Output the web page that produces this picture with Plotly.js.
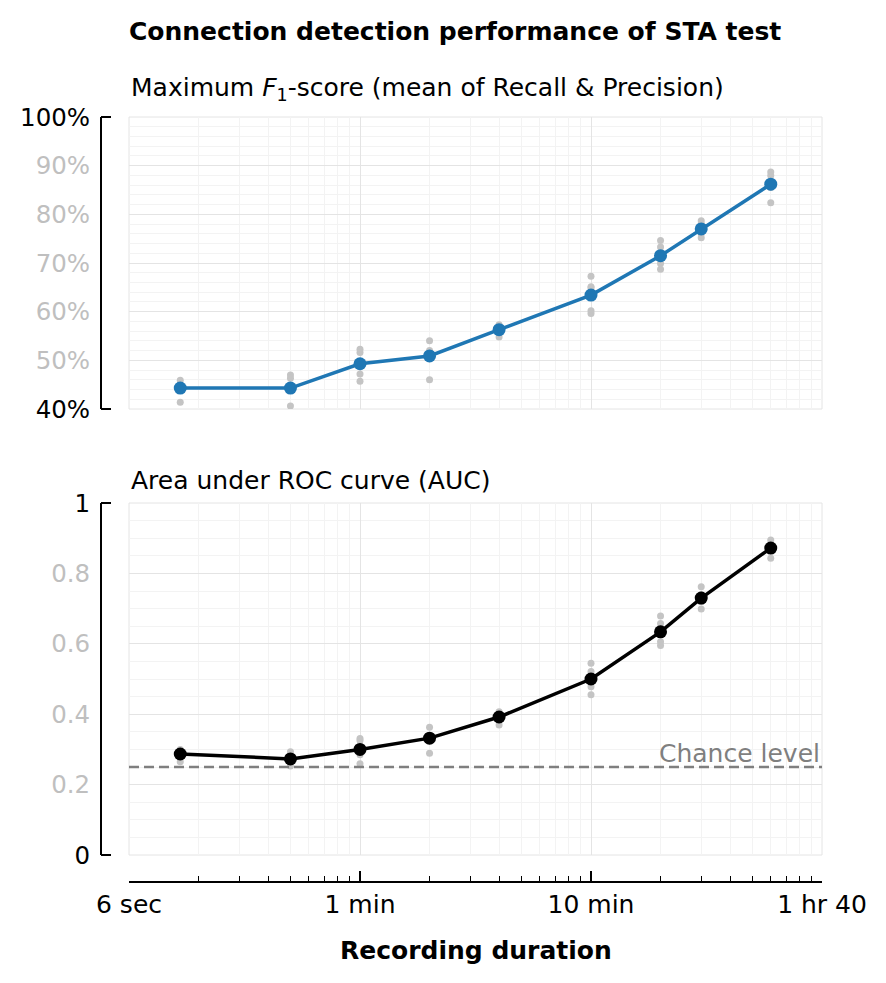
<!DOCTYPE html>
<html>
<head>
<meta charset="utf-8">
<script src="https://cdn.plot.ly/plotly-3.0.1.min.js"></script>
<style>
  html, body { margin: 0; padding: 0; background: #ffffff; }
  #chart { width: 886px; height: 983px; }
</style>
</head>
<body>
<div id="chart"></div>
<script>
// ---------------- data ----------------
const durations = [10, 30, 60, 120, 240, 600, 1200, 1800, 3600]; // seconds

const f1Mean = [44.3, 44.3, 49.3, 50.9, 56.3, 63.4, 71.5, 77.0, 86.2]; // %
const f1Samples = [
  [45.9, 45.0, 44.6, 44.6, 41.4],
  [47.0, 46.3, 43.8, 43.8, 40.6],
  [52.3, 51.6, 49.6, 47.2, 45.7],
  [54.0, 52.0, 51.5, 51.0, 46.0],
  [57.3, 56.9, 56.5, 55.8, 54.8],
  [67.3, 65.1, 64.9, 60.2, 59.6],
  [74.6, 73.3, 71.0, 69.9, 68.7],
  [78.7, 78.0, 77.0, 76.0, 75.2],
  [88.7, 88.0, 86.5, 85.5, 82.4]
];

const aucMean = [0.287, 0.273, 0.300, 0.332, 0.392, 0.500, 0.634, 0.730, 0.872];
const aucSamples = [
  [0.300, 0.292, 0.286, 0.283, 0.265],
  [0.293, 0.280, 0.270, 0.268, 0.253],
  [0.331, 0.325, 0.300, 0.285, 0.259],
  [0.363, 0.340, 0.335, 0.330, 0.289],
  [0.407, 0.398, 0.392, 0.385, 0.369],
  [0.545, 0.521, 0.500, 0.478, 0.455],
  [0.679, 0.658, 0.632, 0.606, 0.595],
  [0.762, 0.740, 0.728, 0.720, 0.699],
  [0.895, 0.880, 0.870, 0.865, 0.843]
];

const chanceLevel = 0.25;

const xTickVals = [6, 60, 600, 6000];
const xTickText = ['6 sec', '1 min', '10 min', '1 hr 40'];
const f1TickVals = [40, 50, 60, 70, 80, 90, 100];
const f1TickText = ['40%', '50%', '60%', '70%', '80%', '90%', '100%'];
const aucTickVals = [0, 0.2, 0.4, 0.6, 0.8, 1];
const aucTickText = ['0', '0.2', '0.4', '0.6', '0.8', '1'];

const titleText = 'Connection detection performance of STA test';
const topTitle = 'Maximum <i>F</i><sub>1</sub>-score (mean of Recall &amp; Precision)';
const bottomTitle = 'Area under ROC curve (AUC)';
const xTitle = 'Recording duration';

// ---------------- helpers ----------------
const FONT = 'DejaVu Sans, Liberation Sans, sans-serif';
const LIGHT = '#bfbfbf';
const GRID_MAJOR = '#e4e4e4';
const GRID_MINOR = '#f3f3f3';

const xMinorVals = [];
[6, 60, 600].forEach(d => { for (let k = 2; k <= 9; k++) xMinorVals.push(k * d); });

function colorEnds(texts) {
  return texts.map((t, i) => (i === 0 || i === texts.length - 1) ? t : '<span style="color:' + LIGHT + '">' + t + '</span>');
}
function flatten(samples) {
  const xs = [], ys = [];
  samples.forEach((arr, i) => arr.forEach(v => { xs.push(durations[i]); ys.push(v); }));
  return {xs, ys};
}

const f1Flat = flatten(f1Samples);
const aucFlat = flatten(aucSamples);

// ---------------- geometry ----------------
const W = 886, H = 983;
const mL = 101, mR = 64, mT = 117, mB = 101;
const pw = W - mL - mR, ph = H - mT - mB;
const xDom = [(129 - mL) / pw, 1];
const yTopDom = [(882 - 409) / ph, 1];
const yBotDom = [(882 - 855) / ph, (882 - 503) / ph];
const xRange = [Math.log10(6), Math.log10(6000)];
const tickFrac = 10 / pw; // spine tick length as paper fraction

const traces = [
  {x: f1Flat.xs, y: f1Flat.ys, xaxis: 'x', yaxis: 'y', mode: 'markers', type: 'scatter',
   marker: {color: '#c4c4c4', size: 7}, hoverinfo: 'skip', showlegend: false},
  {x: durations, y: f1Mean, xaxis: 'x', yaxis: 'y', mode: 'lines+markers', type: 'scatter',
   line: {color: '#1f77b4', width: 3.5}, marker: {color: '#1f77b4', size: 13}, showlegend: false},
  {x: aucFlat.xs, y: aucFlat.ys, xaxis: 'x2', yaxis: 'y2', mode: 'markers', type: 'scatter',
   marker: {color: '#c4c4c4', size: 7}, hoverinfo: 'skip', showlegend: false},
  {x: durations, y: aucMean, xaxis: 'x2', yaxis: 'y2', mode: 'lines+markers', type: 'scatter',
   line: {color: '#000000', width: 3.5}, marker: {color: '#000000', size: 13}, showlegend: false}
];

const yLabelFont = {family: FONT, size: 24.5, color: '#000000'};
const xLabelFont = {family: FONT, size: 25, color: '#000000'};

function spineTick(yref, yv) {
  return {type: 'line', xref: 'paper', yref: yref, x0: 0, x1: tickFrac, y0: yv, y1: yv,
          line: {color: '#000000', width: 2}, layer: 'above'};
}

const layout = {
  width: W, height: H,
  margin: {l: mL, r: mR, t: mT, b: mB, pad: 0},
  paper_bgcolor: '#ffffff', plot_bgcolor: '#ffffff',
  font: {family: FONT, size: 24, color: '#000000'},
  title: {text: titleText, xref: 'container', x: 129 / W, xanchor: 'left',
          yref: 'container', y: 1 - 31 / H, yanchor: 'middle',
          font: {family: FONT, size: 25, weight: 'bold', color: '#000000'}},
  xaxis: {domain: xDom, anchor: 'y', type: 'log', range: xRange,
          tickmode: 'array', tickvals: xTickVals, ticktext: xTickText,
          showticklabels: false, ticks: '', showline: false, zeroline: false,
          showgrid: true, gridcolor: GRID_MAJOR, gridwidth: 1,
          minor: {tickmode: 'array', tickvals: xMinorVals, showgrid: true, gridcolor: GRID_MINOR, gridwidth: 1, ticks: ''}},
  xaxis2: {domain: xDom, anchor: 'free', position: 0, type: 'log', range: xRange,
           tickmode: 'array', tickvals: xTickVals, ticktext: xTickText,
           showticklabels: true, tickfont: xLabelFont, ticklabelstandoff: 0,
           ticks: 'inside', ticklen: 10, tickwidth: 1.5, tickcolor: '#000000',
           showline: true, linecolor: '#000000', linewidth: 2, zeroline: false,
           showgrid: true, gridcolor: GRID_MAJOR, gridwidth: 1,
           minor: {tickmode: 'array', tickvals: xMinorVals, showgrid: true, gridcolor: GRID_MINOR, gridwidth: 1,
                   ticks: 'inside', ticklen: 5, tickwidth: 1, tickcolor: '#000000'}},
  yaxis: {domain: yTopDom, anchor: 'free', position: 0, range: [40, 100],
          tickmode: 'array', tickvals: f1TickVals, ticktext: colorEnds(f1TickText),
          tickfont: yLabelFont, ticks: '', ticklabelstandoff: 5,
          showline: true, linecolor: '#000000', linewidth: 2, zeroline: false,
          showgrid: true, gridcolor: GRID_MAJOR, gridwidth: 1,
          minor: {dtick: 2, showgrid: true, gridcolor: GRID_MINOR, gridwidth: 1, ticks: ''}},
  yaxis2: {domain: yBotDom, anchor: 'free', position: 0, range: [0, 1],
           tickmode: 'array', tickvals: aucTickVals, ticktext: colorEnds(aucTickText),
           tickfont: yLabelFont, ticks: '', ticklabelstandoff: 5,
           showline: true, linecolor: '#000000', linewidth: 2, zeroline: false,
           showgrid: true, gridcolor: GRID_MAJOR, gridwidth: 1,
           minor: {dtick: 0.05, showgrid: true, gridcolor: GRID_MINOR, gridwidth: 1, ticks: ''}},
  shapes: [
    {type: 'rect', xref: 'x domain', yref: 'y domain', x0: 0, x1: 1, y0: 0, y1: 1,
     line: {color: GRID_MAJOR, width: 1}, layer: 'below'},
    {type: 'rect', xref: 'x2 domain', yref: 'y2 domain', x0: 0, x1: 1, y0: 0, y1: 1,
     line: {color: GRID_MAJOR, width: 1}, layer: 'below'},
    {type: 'line', xref: 'x2 domain', yref: 'y2', x0: 0, x1: 1, y0: chanceLevel, y1: chanceLevel,
     line: {color: '#7f7f7f', width: 2.5, dash: '10px,5px'}, layer: 'above'},
    spineTick('y domain', 0), spineTick('y domain', 1),
    spineTick('y2 domain', 0), spineTick('y2 domain', 1)
  ],
  annotations: [
    {text: topTitle, xref: 'x domain', yref: 'y domain', x: 0, y: 1, xanchor: 'left', yanchor: 'middle',
     yshift: 28, showarrow: false, font: {family: FONT, size: 25, color: '#000000'}},
    {text: bottomTitle, xref: 'x2 domain', yref: 'y2 domain', x: 0, y: 1, xanchor: 'left', yanchor: 'middle',
     yshift: 23, showarrow: false, font: {family: FONT, size: 25, color: '#000000'}},
    {text: 'Chance level', xref: 'x2 domain', yref: 'y2', x: 1, y: chanceLevel, xanchor: 'right', yanchor: 'middle',
     yshift: 14, showarrow: false, font: {family: FONT, size: 25, color: '#7f7f7f'}},
    {text: xTitle, xref: 'x2 domain', yref: 'paper', x: 0.5, y: 0, xanchor: 'center', yanchor: 'middle',
     yshift: -68, showarrow: false, font: {family: FONT, size: 25, weight: 'bold', color: '#000000'}}
  ]
};

Plotly.newPlot('chart', traces, layout, {displayModeBar: false, staticPlot: true});
</script>
</body>
</html>
